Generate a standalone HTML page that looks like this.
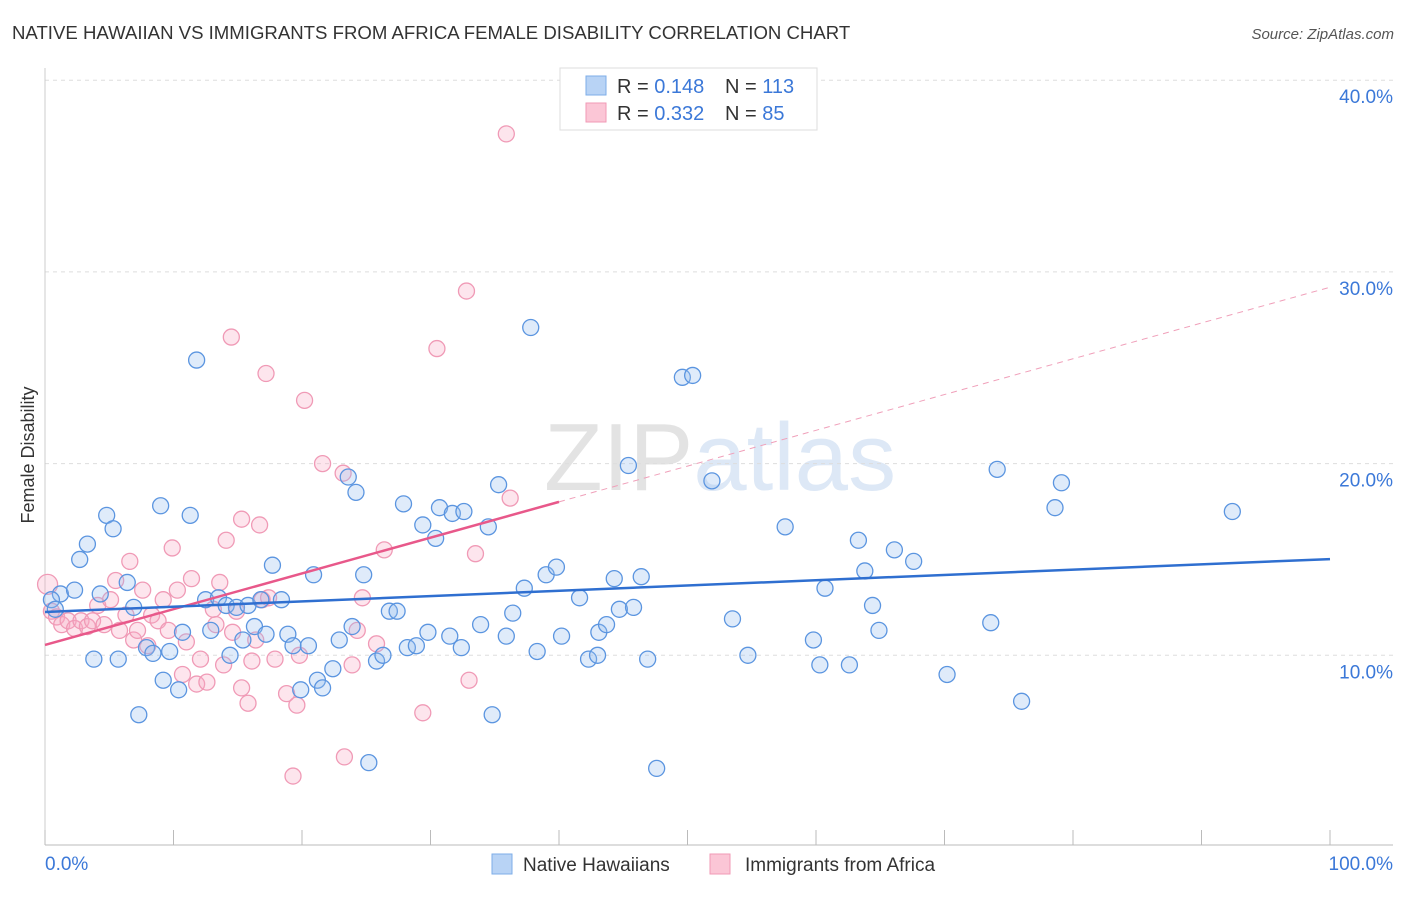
<!DOCTYPE html>
<html><head><meta charset="utf-8"><style>
body{margin:0;background:#fff;font-family:"Liberation Sans",sans-serif;}
svg text{font-family:"Liberation Sans",sans-serif;}
</style></head><body>
<svg width="1406" height="892" viewBox="0 0 1406 892">
<text x="12" y="39" font-size="18.6" fill="#333">NATIVE HAWAIIAN VS IMMIGRANTS FROM AFRICA FEMALE DISABILITY CORRELATION CHART</text>
<text x="1394" y="39" font-size="15" fill="#555" text-anchor="end" font-style="italic">Source: ZipAtlas.com</text>
<text x="720" y="490" font-size="96" fill="#e3e3e3" text-anchor="middle" font-family="Liberation Serif">ZIP<tspan fill="#dde8f6" font-family="Liberation Sans">atlas</tspan></text>
<g id="grid"></g>
<g id="axes"></g>
<g id="marks"></g>
<text x="34" y="455" font-size="18" fill="#333" text-anchor="middle" transform="rotate(-90 34 455)">Female Disability</text>
<rect x="560" y="68" width="257" height="62" fill="#fff" stroke="#ddd"/>
<rect x="586" y="76" width="20" height="19" fill="#b8d3f5" stroke="#7eaee8"/>
<rect x="586" y="103" width="20" height="19" fill="#fbc6d6" stroke="#f09ab6"/>
<text x="617" y="93" font-size="20" fill="#333">R = <tspan fill="#3b78d8">0.148</tspan><tspan x="725">N = </tspan><tspan fill="#3b78d8">113</tspan></text>
<text x="617" y="120" font-size="20" fill="#333">R = <tspan fill="#3b78d8">0.332</tspan><tspan x="725">N = </tspan><tspan fill="#3b78d8"> 85</tspan></text>
<rect x="492" y="854" width="20" height="20" fill="#b8d3f5" stroke="#7eaee8"/>
<text x="523" y="871" font-size="19" fill="#333">Native Hawaiians</text>
<rect x="710" y="854" width="20" height="20" fill="#fbc6d6" stroke="#f09ab6"/>
<text x="741" y="871" font-size="19" fill="#333" transform="translate(4,0)">Immigrants from Africa</text>
</svg>
<script>
const blueX=[1.2,0.5,0.8,2.3,2.7,3.3,3.8,4.3,4.8,5.3,5.7,6.4,6.9,7.3,7.9,8.4,9.0,9.2,9.7,10.4,10.7,11.3,11.8,12.5,12.9,13.5,14.1,14.4,14.9,15.4,15.8,16.3,16.8,17.2,17.7,18.4,18.9,19.3,19.9,20.5,20.9,21.2,21.6,22.4,22.9,23.6,23.9,24.2,24.8,25.2,25.8,26.3,26.8,27.4,27.9,28.2,28.9,29.4,29.8,30.4,30.7,31.5,31.7,32.4,32.6,33.9,34.5,34.8,35.3,35.9,36.4,37.3,37.8,38.3,39.0,39.8,40.2,41.6,42.3,43.0,43.1,43.7,44.3,44.7,45.4,45.8,46.4,46.9,47.6,49.6,50.4,51.9,53.5,54.7,57.6,59.8,60.3,60.7,62.6,63.3,63.8,64.4,64.9,66.1,67.6,70.2,73.6,74.1,76.0,78.6,79.1,92.4];
const blueY=[13.2,12.9,12.4,13.4,15.0,15.8,9.8,13.2,17.3,16.6,9.8,13.8,12.5,6.9,10.4,10.1,17.8,8.7,10.2,8.2,11.2,17.3,25.4,12.9,11.3,13.0,12.6,10.0,12.5,10.8,12.6,11.5,12.9,11.1,14.7,12.9,11.1,10.5,8.2,10.5,14.2,8.7,8.3,9.3,10.8,19.3,11.5,18.5,14.2,4.4,9.7,10.0,12.3,12.3,17.9,10.4,10.5,16.8,11.2,16.1,17.7,11.0,17.4,10.4,17.5,11.6,16.7,6.9,18.9,11.0,12.2,13.5,27.1,10.2,14.2,14.6,11.0,13.0,9.8,10.0,11.2,11.6,14.0,12.4,19.9,12.5,14.1,9.8,4.1,24.5,24.6,19.1,11.9,10.0,16.7,10.8,9.5,13.5,9.5,16.0,14.4,12.6,11.3,15.5,14.9,9.0,11.7,19.7,7.6,17.7,19.0,17.5];
const pinkX=[0.2,0.5,0.9,1.3,1.8,2.3,2.8,3.3,3.7,4.1,4.6,5.1,5.5,5.8,6.3,6.6,6.9,7.2,7.6,8.0,8.3,8.8,9.2,9.6,9.9,10.3,10.7,11.0,11.4,11.8,12.1,12.6,13.1,13.3,13.6,13.9,14.1,14.5,14.6,14.9,15.3,15.3,15.8,16.1,16.4,16.7,16.9,17.2,17.4,17.9,18.8,19.3,19.6,19.8,20.2,21.6,23.2,23.3,23.9,24.3,24.7,25.8,26.4,29.4,30.5,32.8,33.0,33.5,35.9,36.2];
const pinkY=[13.7,12.3,12.0,11.6,11.8,11.4,11.8,11.5,11.8,12.6,11.6,12.9,13.9,11.3,12.1,14.9,10.8,11.3,13.4,10.5,12.1,11.8,12.9,11.3,15.6,13.4,9.0,10.7,14.0,8.5,9.8,8.6,12.4,11.6,13.8,9.5,16.0,26.6,11.2,12.3,8.3,17.1,7.5,9.7,10.8,16.8,12.9,24.7,13.0,9.8,8.0,3.7,7.4,10.0,23.3,20.0,19.5,4.7,9.5,11.3,13.0,10.6,15.5,7.0,26.0,29.0,8.7,15.3,37.2,18.2];
const blueTrend=[12.26,15.02];
const pinkTrend=[10.54,29.2];
const pinkSolidEnd=40;
const yTicks=[10,20,30,40];
const yTickLabels=["10.0%","20.0%","30.0%","40.0%"];
const xTickLabels=["0.0%","100.0%"];
const NS="http://www.w3.org/2000/svg";
const X=v=>45+v*12.85, Y=v=>847-v*19.17;
function mk(t,a,p){const e=document.createElementNS(NS,t);for(const k in a)e.setAttribute(k,a[k]);p.appendChild(e);return e;}
const grid=document.getElementById('grid'),axes=document.getElementById('axes'),marks=document.getElementById('marks');
yTicks.forEach((t,i)=>{
 const l=mk('line',{x1:45,x2:1393,y1:Y(t),y2:Y(t),stroke:'#ddd','stroke-dasharray':'4,4'},grid);
 
 
 const tx=mk('text',{x:1393,y:Y(t)+23,'font-size':19,fill:'#3b78d8','text-anchor':'end'},axes);
 tx.textContent=yTickLabels[i];
 
 
});
const al=mk('line',{x1:45,x2:1393,y1:845,y2:845,stroke:'#bbb'},axes);


const yl=mk('line',{x1:45,x2:45,y1:68,y2:845,stroke:'#ccc'},axes);


for(let i=0;i<=10;i++){
 const t=mk('line',{x1:X(i*10),x2:X(i*10),y1:830,y2:845,stroke:'#bbb'},axes);
 
 
}
[[0,'start',45],[1,'end',1393]].forEach(([i,a,x])=>{
 const tx=mk('text',{x:x,y:870,'font-size':19,fill:'#3b78d8','text-anchor':a},axes);
 tx.textContent=xTickLabels[i];
 
 
});
pinkX.forEach((v,i)=>{
 const c=mk('circle',{cx:X(v),cy:Y(pinkY[i]),r:i==0?10:8,fill:'rgba(248,170,196,0.3)',stroke:'#f09ab6','stroke-width':1.3},marks);
 
 
});
blueX.forEach((v,i)=>{
 const c=mk('circle',{cx:X(v),cy:Y(blueY[i]),r:8,fill:'rgba(150,190,240,0.3)',stroke:'#5b95e0','stroke-width':1.3},marks);
 
 
});
const pe=pinkTrend[0]+(pinkTrend[1]-pinkTrend[0])*pinkSolidEnd/100;
const pd=mk('line',{x1:X(pinkSolidEnd),y1:Y(pe),x2:X(100),y2:Y(pinkTrend[1]),stroke:'#f0a0ba','stroke-dasharray':'6,5','stroke-width':1},marks);


const ps=mk('line',{x1:X(0),y1:Y(pinkTrend[0]),x2:X(pinkSolidEnd),y2:Y(pe),stroke:'#e8588a','stroke-width':2.5},marks);


const bt=mk('line',{x1:X(0),y1:Y(blueTrend[0]),x2:X(100),y2:Y(blueTrend[1]),stroke:'#2f6fd0','stroke-width':2.5},marks);


</script>
</body></html>
